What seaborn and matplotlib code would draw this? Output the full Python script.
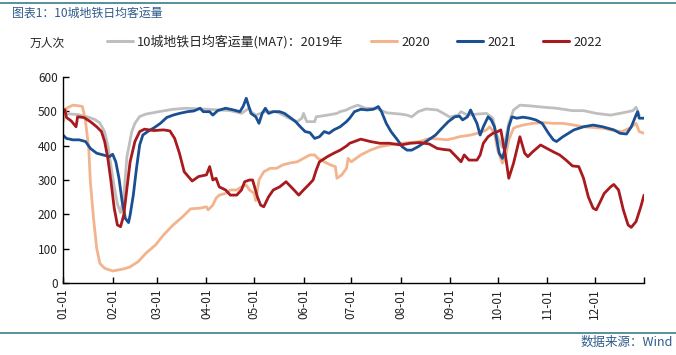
import numpy as np
import pandas as pd
import matplotlib
matplotlib.use("Agg")
import matplotlib.pyplot as plt
from matplotlib.lines import Line2D
import seaborn as sns

# ---------------- data (day of year, 万人次) ----------------
days_2019 = [0, 5, 10, 15, 20, 23, 26, 28, 30, 32, 34, 36, 38, 40, 43, 45, 48, 52, 60, 69, 77, 86, 95, 105,
             112, 117, 118, 121, 127, 134, 142, 147, 150, 151, 153, 158, 159, 166, 172, 174, 178, 180, 185,
             190, 197, 203, 207, 212, 216, 219, 223, 228, 235, 239, 243, 248, 250, 254, 260, 266, 270, 272,
             276, 278, 280, 283, 287, 293, 302, 310, 320, 327, 335, 344, 352, 358, 360, 362]
vals_2019 = [494, 492, 490, 484, 476, 466, 440, 400, 340, 280, 230, 205, 250, 368, 440, 465, 485, 492, 499,
             506, 509, 507, 505, 502, 494, 510, 499, 489, 499, 499, 480, 470, 480, 494, 470, 470, 484, 489,
             494, 499, 504, 509, 518, 509, 509, 496, 494, 492, 489, 484, 499, 507, 504, 494, 483, 489, 499,
             489, 492, 494, 480, 436, 395, 420, 465, 504, 518, 516, 512, 509, 502, 502, 494, 489, 496, 502,
             512, 489]

days_2020 = [0, 2, 6, 10, 12, 13, 14, 16, 17, 19, 21, 23, 26, 31, 38, 42, 47, 52, 58, 63, 69, 75, 80, 86,
             90, 91, 93, 94, 96, 98, 102, 105, 109, 112, 115, 117, 120, 121, 123, 126, 130, 134, 138, 142,
             147, 151, 155, 158, 160, 164, 168, 171, 172, 175, 178, 179, 181, 187, 193, 199, 205, 212, 218,
             224, 230, 237, 241, 245, 249, 256, 262, 266, 268, 271, 273, 276, 278, 280, 283, 285, 289, 295,
             302, 308, 314, 321, 327, 333, 339, 346, 351, 356, 360, 362, 365]
vals_2020 = [470, 509, 518, 516, 514, 494, 470, 392, 295, 188, 101, 57, 43, 35, 41, 47, 62, 87, 111, 140,
             169, 193, 216, 218, 222, 213, 222, 227, 247, 256, 261, 271, 271, 280, 285, 271, 261, 240, 300,
             324, 334, 334, 344, 349, 353, 363, 373, 373, 363, 353, 344, 339, 305, 315, 334, 363, 353, 373,
             387, 397, 402, 407, 409, 412, 421, 419, 417, 421, 426, 431, 438, 446, 455, 436, 387, 349, 368,
             417, 451, 455, 460, 465, 467, 465, 465, 460, 455, 453, 451, 444, 441, 451, 465, 441, 436]

days_2021 = [0, 2, 6, 10, 14, 17, 21, 25, 29, 31, 33, 35, 37, 39, 41, 42, 44, 46, 48, 50, 53, 57, 61, 65,
             69, 73, 78, 82, 86, 88, 92, 94, 97, 102, 107, 111, 113, 115, 116, 118, 121, 123, 125, 127, 129,
             132, 136, 139, 142, 146, 149, 152, 155, 158, 161, 164, 167, 170, 174, 178, 180, 183, 187, 191,
             195, 198, 200, 203, 206, 210, 213, 216, 219, 223, 228, 234, 238, 242, 246, 249, 251, 254, 256,
             258, 260, 262, 264, 267, 269, 271, 274, 276, 278, 280, 282, 285, 289, 293, 297, 301, 305, 308,
             310, 314, 321, 327, 333, 339, 346, 350, 354, 357, 360, 361, 362, 365]
vals_2021 = [430, 421, 417, 417, 412, 392, 378, 373, 368, 375, 353, 305, 237, 188, 176, 198, 256, 334, 402,
             431, 441, 452, 465, 482, 489, 494, 499, 501, 509, 499, 499, 489, 502, 509, 504, 499, 514, 538,
             523, 494, 484, 465, 494, 509, 494, 499, 499, 494, 484, 470, 455, 441, 438, 421, 426, 441, 436,
             446, 455, 470, 480, 499, 506, 504, 506, 514, 499, 465, 441, 417, 397, 387, 387, 397, 412, 431,
             451, 470, 484, 486, 475, 484, 504, 484, 465, 431, 455, 484, 475, 455, 378, 363, 397, 455, 484,
             480, 483, 480, 475, 465, 436, 417, 412, 426, 446, 455, 460, 455, 446, 436, 434, 455, 489, 499,
             480, 480]

days_2022 = [0, 1, 2, 5, 8, 9, 13, 17, 21, 24, 26, 28, 30, 32, 34, 36, 38, 40, 42, 45, 48, 51, 57, 63, 67,
             70, 73, 76, 81, 85, 90, 92, 94, 96, 98, 102, 105, 109, 112, 114, 117, 119, 122, 124, 126, 129,
             132, 136, 140, 145, 148, 151, 154, 157, 159, 161, 166, 170, 174, 178, 180, 187, 193, 199, 205,
             212, 218, 224, 230, 235, 239, 243, 247, 250, 252, 255, 260, 262, 264, 267, 270, 273, 275, 278,
             280, 283, 285, 287, 290, 292, 295, 300, 304, 308, 312, 316, 320, 324, 327, 330, 333, 335, 337,
             340, 344, 346, 349, 352, 355, 357, 360, 363, 365]
vals_2022 = [500, 505, 482, 472, 455, 484, 482, 470, 455, 441, 412, 363, 295, 218, 169, 164, 198, 276, 353,
             412, 441, 448, 444, 446, 443, 421, 378, 324, 297, 310, 315, 339, 300, 305, 280, 271, 256, 256,
             271, 295, 300, 300, 251, 227, 222, 251, 271, 280, 295, 271, 256, 271, 285, 300, 329, 353, 368,
             378, 387, 399, 407, 419, 412, 407, 407, 402, 407, 409, 405, 392, 389, 387, 368, 353, 373, 358,
             358, 373, 407, 426, 436, 441, 446, 368, 305, 349, 387, 426, 378, 368, 382, 402, 392, 382, 373,
             358, 341, 339, 305, 251, 218, 213, 232, 261, 280, 287, 271, 213, 169, 162, 179, 222, 256]

series_names = ["10城地铁日均客运量(MA7)：2019年", "2020", "2021", "2022"]
series_colors = ["#BFBFBF", "#F2B48C", "#1B4F93", "#A81A1E"]
tick_days = [0, 31, 59, 90, 120, 151, 181, 212, 243, 273, 304, 334, 365]
tick_labels = ["01-01", "02-01", "03-01", "04-01", "05-01", "06-01", "07-01", "08-01",
               "09-01", "10-01", "11-01", "12-01", ""]
y_ticks = [0, 100, 200, 300, 400, 500, 600]

frames = []
for name, d, v in zip(series_names,
                      [days_2019, days_2020, days_2021, days_2022],
                      [vals_2019, vals_2020, vals_2021, vals_2022]):
    frames.append(pd.DataFrame({"day": d, "value": v, "series": name}))
df = pd.concat(frames, ignore_index=True)

# ---------------- figure ----------------
sns.set_theme(style="white")
plt.rcParams["font.family"] = ["Noto Sans CJK SC", "DejaVu Sans"]

fig = plt.figure(figsize=(6.76, 3.55), dpi=100)
ax = fig.add_axes([63.3 / 676, 1 - 283 / 355, (644 - 63.3) / 676, (283 - 77) / 355])

sns.lineplot(data=df, x="day", y="value", hue="series", hue_order=series_names,
             palette=dict(zip(series_names, series_colors)), estimator=None, sort=False,
             linewidth=2.0, legend=False, ax=ax)

ax.set_xlim(0, 365)
ax.set_ylim(0, 600)
ax.set_yticks(y_ticks)
ax.set_yticklabels([str(t) for t in y_ticks], fontsize=8.5, color="#222222")
ax.set_xticks(tick_days)
ax.set_xticklabels(tick_labels, rotation=90, fontsize=8.5, color="#222222")
ax.set_xlabel("")
ax.set_ylabel("")
ax.tick_params(axis="both", direction="in", length=4, width=1, color="black",
               bottom=True, left=True, pad=4)
for s in ["top", "right"]:
    ax.spines[s].set_visible(False)
for s in ["left", "bottom"]:
    ax.spines[s].set_color("black")
    ax.spines[s].set_linewidth(1)

# legend
handles = [Line2D([0], [0], color=c, lw=2.2) for c in series_colors]
fig.legend(handles, series_names, loc="center left", bbox_to_anchor=(107 / 676, 1 - 42 / 355),
           ncol=4, frameon=False, fontsize=9.3, handlelength=2.0, handletextpad=0.35,
           columnspacing=2.1, borderaxespad=0, borderpad=0)

fig.text(30 / 676, 1 - 43 / 355, "万人次", fontsize=8.5, va="center", ha="left", color="#222222")

# header / footer
fig.add_artist(Line2D([0, 1], [1 - 3 / 355, 1 - 3 / 355], color="#3A7D8C", lw=1.2,
                      transform=fig.transFigure))
fig.text(12 / 676, 1 - 13 / 355, "图表1：10城地铁日均客运量", fontsize=8.6, va="center", ha="left",
         color="#2F5B8A")
fig.add_artist(Line2D([0, 1], [1 - 333 / 355, 1 - 333 / 355], color="#3A7D8C", lw=1.2,
                      transform=fig.transFigure))
fig.text(673 / 676, 1 - 342 / 355, "数据来源：Wind", fontsize=9, va="center", ha="right",
         color="#2F5B8A")

fig.savefig("out.png", dpi=100)
